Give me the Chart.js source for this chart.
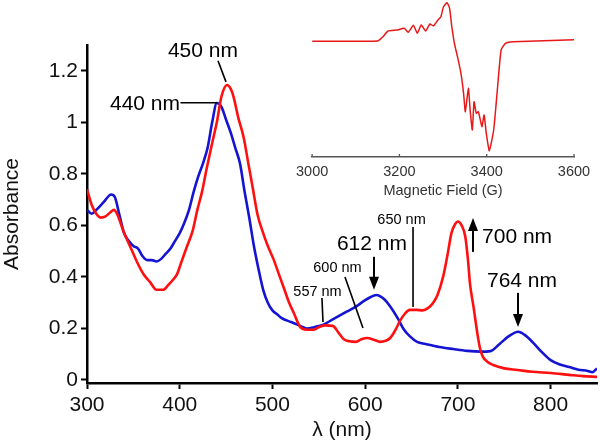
<!DOCTYPE html>
<html>
<head>
<meta charset="utf-8">
<script src="https://cdn.jsdelivr.net/npm/chart.js@4.4.1/dist/chart.umd.min.js"></script>
<style>
  html, body { margin: 0; padding: 0; background: #fff; }
  #wrap { position: relative; width: 600px; height: 444px; overflow: hidden; }
  #main { position: absolute; left: 0; top: 0; }
  #epr { position: absolute; left: 290px; top: 0; }
</style>
</head>
<body>
<div id="wrap">
  <canvas id="main" width="600" height="444"></canvas>
  <canvas id="epr" width="310" height="200"></canvas>
</div>
<script>
// UV-vis spectra (wavelength in nm, absorbance)
const redNm = [300, 305, 310, 315, 320, 325, 329, 333, 339, 345, 350, 355, 361, 368, 375, 382, 388, 393, 397, 402,
  408, 414, 419, 424, 429, 435, 440, 445, 451, 455, 458, 463, 469, 474, 479, 484, 490, 495, 501, 507,
  512, 518, 523, 530, 537, 544, 550, 557, 565, 572, 577, 583, 590, 596, 602, 610, 616, 622, 627, 632,
  638, 643, 648, 655, 662, 668, 673, 678, 684, 689, 693, 697, 700, 704, 708, 711, 713, 717, 721, 724,
  727, 732, 738, 750, 764, 780, 800, 820, 835, 850];
const redAbs = [0.74, 0.68, 0.645, 0.63, 0.635, 0.65, 0.66, 0.64, 0.58, 0.53, 0.49, 0.45, 0.41, 0.38, 0.35, 0.35, 0.37, 0.39, 0.41, 0.46,
  0.52, 0.58, 0.66, 0.73, 0.82, 0.92, 1.0, 1.10, 1.145, 1.13, 1.10, 1.02, 0.94, 0.84, 0.74, 0.64, 0.57, 0.52, 0.47, 0.41,
  0.36, 0.30, 0.26, 0.205, 0.195, 0.195, 0.205, 0.212, 0.21, 0.18, 0.158, 0.15, 0.148, 0.158, 0.163, 0.155, 0.148, 0.152, 0.163, 0.19,
  0.232, 0.258, 0.272, 0.272, 0.27, 0.28, 0.298, 0.33, 0.40, 0.49, 0.57, 0.605, 0.615, 0.60, 0.556, 0.46, 0.375, 0.28, 0.18, 0.12,
  0.09, 0.07, 0.058, 0.045, 0.039, 0.032, 0.027, 0.02, 0.015, 0.012];

const blueNm = [300, 305, 310, 318, 326, 330, 335, 340, 345, 350, 355, 360, 365, 370, 375, 380, 385, 390, 395, 400,
  405, 410, 415, 420, 425, 430, 435, 440, 445, 450, 455, 460, 465, 470, 475, 480, 485, 490, 495, 500,
  505, 510, 520, 530, 537, 545, 555, 565, 580, 590, 600, 605, 612, 620, 627, 635, 641, 648, 656, 665,
  680, 695, 710, 725, 735, 745, 755, 765, 772, 781, 790, 800, 810, 820, 830, 840, 845, 850];
const blueAbs = [0.66, 0.645, 0.66, 0.69, 0.72, 0.71, 0.64, 0.57, 0.54, 0.52, 0.51, 0.48, 0.465, 0.465, 0.46, 0.47, 0.49, 0.51, 0.54, 0.57,
  0.61, 0.66, 0.73, 0.79, 0.84, 0.9, 1.0, 1.075, 1.06, 1.01, 0.96, 0.9, 0.84, 0.73, 0.63, 0.52, 0.43, 0.35, 0.30, 0.27,
  0.255, 0.24, 0.225, 0.21, 0.2, 0.205, 0.215, 0.235, 0.265, 0.285, 0.31, 0.32, 0.33, 0.315, 0.285, 0.24, 0.2, 0.17, 0.148, 0.14,
  0.128, 0.12, 0.113, 0.11, 0.112, 0.14, 0.17, 0.187, 0.175, 0.145, 0.11, 0.077, 0.06, 0.05, 0.04, 0.035, 0.03, 0.045];

// EPR inset (field in G, derivative signal, arbitrary units)
const eprField = [3000, 3150, 3161, 3174, 3194, 3211, 3220, 3232, 3241, 3250, 3260, 3270, 3278, 3287, 3295, 3301, 3309, 3315, 3320, 3326,
  3333, 3341, 3347, 3351, 3358, 3362, 3367, 3371, 3376, 3381, 3389, 3394, 3399, 3406, 3416, 3425, 3433, 3443, 3461, 3600];
const eprSignal = [-0.03, 0, 0.37, 1.0, 1.1, 1.27, 0.87, 1.57, 0.77, 1.6, 1.0, 1.7, 1.5, 2.03, 2.43, 3.43, 3.83, 3.27, 1.43, -0.23,
  -1.57, -3.23, -5.23, -7.07, -4.73, -6.9, -8.9, -6.07, -7.23, -7.07, -8.57, -7.4, -9.23, -10.97, -8.9, -4.57, -0.9, -0.23, -0.07, 0.13];

const xTicks = [300, 400, 500, 600, 700, 800];
const yTicks = [0, 0.2, 0.4, 0.6, 0.8, 1, 1.2];
const eprTicks = [3000, 3200, 3400, 3600];

// labels placed in data coordinates (nm, absorbance)
const notes = [
  { text: '450 nm', nm: 425, a: 1.274, size: 21, align: 'center' },
  { text: '440 nm', nm: 400.3, a: 1.072, size: 21, align: 'right' },
  { text: '612 nm', nm: 607.3, a: 0.528, size: 21, align: 'center' },
  { text: '600 nm', nm: 570.1, a: 0.435, size: 14.5, align: 'center' },
  { text: '557 nm', nm: 548.6, a: 0.342, size: 14.5, align: 'center' },
  { text: '650 nm', nm: 639.2, a: 0.621, size: 14.5, align: 'center' },
  { text: '700 nm', nm: 726, a: 0.555, size: 21, align: 'left' },
  { text: '764 nm', nm: 769.1, a: 0.384, size: 21, align: 'center' },
];
const leaders = [
  [441.3, 1.239, 449.9, 1.157],
  [400.8, 1.076, 440.2, 1.076],
  [578.2, 0.40, 597.6, 0.202],
  [553.4, 0.318, 554.5, 0.225],
  [651.6, 0.594, 651.6, 0.283],
];
const arrows = [
  [609.5, 0.478, 0.35],
  [716.3, 0.497, 0.629],
  [764.8, 0.338, 0.206],
];

const FONT = '"Liberation Sans", Arial, Helvetica, sans-serif';
Chart.defaults.font.family = FONT;
Chart.defaults.color = '#111';

const annotate = {
  id: 'annotate',
  afterDatasetsDraw(chart) {
    const { ctx, scales: { x, y } } = chart;
    ctx.save();
    ctx.strokeStyle = '#000';
    ctx.fillStyle = '#000';
    ctx.lineWidth = 1.6;
    leaders.forEach(([x1, y1, x2, y2]) => {
      ctx.beginPath();
      ctx.moveTo(x.getPixelForValue(x1), y.getPixelForValue(y1));
      ctx.lineTo(x.getPixelForValue(x2), y.getPixelForValue(y2));
      ctx.stroke();
    });
    ctx.lineWidth = 2;
    arrows.forEach(([nm, a1, a2]) => {
      const px = x.getPixelForValue(nm);
      const p1 = y.getPixelForValue(a1);
      const p2 = y.getPixelForValue(a2);
      const dir = p2 > p1 ? 1 : -1;
      ctx.beginPath();
      ctx.moveTo(px, p1);
      ctx.lineTo(px, p2 - dir * 10);
      ctx.stroke();
      ctx.beginPath();
      ctx.moveTo(px, p2);
      ctx.lineTo(px - 5, p2 - dir * 13);
      ctx.lineTo(px + 5, p2 - dir * 13);
      ctx.closePath();
      ctx.fill();
    });
    ctx.textBaseline = 'middle';
    notes.forEach((n) => {
      ctx.font = n.size + 'px ' + FONT;
      ctx.textAlign = n.align;
      ctx.fillText(n.text, x.getPixelForValue(n.nm), y.getPixelForValue(n.a));
    });
    ctx.restore();
  },
};

new Chart(document.getElementById('main'), {
  type: 'line',
  data: {
    datasets: [
      {
        label: 'red',
        data: redNm.map((v, i) => ({ x: v, y: redAbs[i] })),
        borderColor: '#ff1010',
        borderWidth: 2.6,
        pointRadius: 0,
        cubicInterpolationMode: 'monotone',
      },
      {
        label: 'blue',
        data: blueNm.map((v, i) => ({ x: v, y: blueAbs[i] })),
        borderColor: '#1414d2',
        borderWidth: 2.6,
        pointRadius: 0,
        cubicInterpolationMode: 'monotone',
      },
    ],
  },
  options: {
    responsive: false,
    animation: false,
    devicePixelRatio: 1,
    layout: { padding: { left: 0, right: 3, top: 45, bottom: 0 } },
    plugins: { legend: { display: false }, tooltip: { enabled: false } },
    scales: {
      x: {
        type: 'linear',
        min: 300,
        max: 850,
        afterFit: (s) => { s.height = 61; },
        afterBuildTicks: (s) => { s.ticks = xTicks.map((v) => ({ value: v })); },
        ticks: { font: { size: 21 }, color: '#111', padding: 4, maxRotation: 0 },
        grid: { drawOnChartArea: false, tickLength: 6, tickWidth: 2, tickColor: '#000' },
        border: { color: '#000', width: 2.5 },
        title: { display: true, text: 'λ (nm)', font: { size: 21 }, color: '#111', padding: { top: 0, bottom: 1 } },
      },
      y: {
        type: 'linear',
        min: -0.0117,
        max: 1.3,
        afterFit: (s) => { s.width = 87; },
        afterBuildTicks: (s) => { s.ticks = yTicks.map((v) => ({ value: v })); },
        ticks: { font: { size: 21 }, color: '#111', padding: 3, callback: (v) => String(+v.toFixed(1)) },
        grid: { drawOnChartArea: false, tickLength: 6, tickWidth: 2, tickColor: '#000' },
        border: { color: '#000', width: 2.5 },
        title: { display: true, text: 'Absorbance', font: { size: 21 }, color: '#111', padding: { top: 0, bottom: 0 } },
      },
    },
  },
  plugins: [annotate],
});

const upTicks = {
  id: 'upTicks',
  afterDraw(chart) {
    const { ctx, scales: { x }, chartArea } = chart;
    ctx.save();
    ctx.strokeStyle = '#555';
    ctx.lineWidth = 1.3;
    eprTicks.forEach((v) => {
      const px = x.getPixelForValue(v);
      ctx.beginPath();
      ctx.moveTo(px, chartArea.bottom);
      ctx.lineTo(px, chartArea.bottom - 3);
      ctx.stroke();
    });
    ctx.restore();
  },
};

new Chart(document.getElementById('epr'), {
  type: 'line',
  data: {
    datasets: [{
      data: eprField.map((v, i) => ({ x: v, y: eprSignal[i] })),
      borderColor: '#e81818',
      borderWidth: 1.5,
      pointRadius: 0,
      tension: 0.15,
    }],
  },
  options: {
    responsive: false,
    animation: false,
    devicePixelRatio: 1,
    layout: { padding: { left: 17, right: 26, top: 2, bottom: 0 } },
    plugins: { legend: { display: false }, tooltip: { enabled: false } },
    scales: {
      x: {
        type: 'linear',
        min: 3000,
        max: 3600,
        afterFit: (s) => { s.height = 43; },
        afterBuildTicks: (s) => { s.ticks = eprTicks.map((v) => ({ value: v })); },
        ticks: { font: { size: 14.5 }, color: '#333', padding: 6, maxRotation: 0, callback: (v) => String(v) },
        grid: { display: true, drawOnChartArea: false, drawTicks: false },
        border: { color: '#555', width: 1.5 },
        title: { display: true, text: 'Magnetic Field (G)', font: { size: 14.5 }, color: '#333', padding: { top: 0, bottom: 0 } },
      },
      y: { display: false, min: -11.6, max: 3.9 },
    },
  },
  plugins: [upTicks],
});
</script>
</body>
</html>
